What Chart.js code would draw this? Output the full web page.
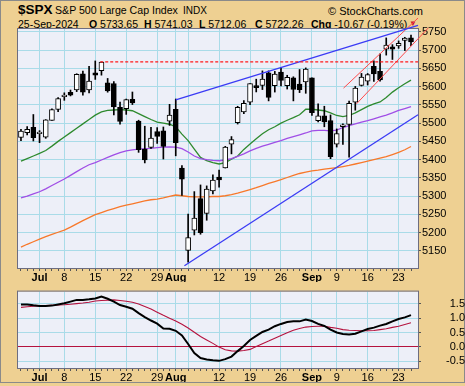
<!DOCTYPE html>
<html>
<head>
<meta charset="utf-8">
<script src="https://cdn.jsdelivr.net/npm/chart.js@4.4.1/dist/chart.umd.min.js"></script>
<style>
  html, body { margin: 0; padding: 0; }
  body { width: 465px; height: 386px; background: #eed092; position: relative; overflow: hidden;
         font-family: "Liberation Sans", Arial, sans-serif; }
  #frame { position: absolute; left: 0; top: 0; width: 465px; height: 383px; box-sizing: border-box; border: 1px solid #8a8a8a; }
  .t { position: absolute; white-space: nowrap; color: #000; }
  .box { position: absolute; left: 0; width: 465px; }
</style>
</head>
<body>
<div id="frame"></div>
<div class="t" style="left:18px;top:3px;font-size:13.5px;line-height:13.5px;font-weight:bold">$SPX</div>
<div class="t" style="left:55px;top:5px;font-size:10.6px;line-height:10.6px">S&amp;P 500 Large Cap Index</div>
<div class="t" style="left:183px;top:5.5px;font-size:10px;line-height:10px">INDX</div>
<div class="t" style="left:328px;top:5.5px;font-size:11px;line-height:11px">&copy; StockCharts.com</div>
<div class="t" style="left:18px;top:18.5px;font-size:10.5px;line-height:10.5px">25-Sep-2024</div>
<div class="t" style="left:89px;top:18.5px;font-size:10.5px;line-height:10.5px"><b>O</b> 5733.65</div>
<div class="t" style="left:144px;top:18.5px;font-size:10.5px;line-height:10.5px"><b>H</b> 5741.03</div>
<div class="t" style="left:199px;top:18.5px;font-size:10.5px;line-height:10.5px"><b>L</b> 5712.06</div>
<div class="t" style="left:255px;top:18.5px;font-size:10.5px;line-height:10.5px"><b>C</b> 5722.26</div>
<div class="t" style="left:311px;top:18.5px;font-size:10.5px;line-height:10.5px"><b>Chg</b> -10.67 (-0.19%)</div>
<div class="t" style="left:409px;top:20px;font-size:8px;line-height:8px;color:#c8102e">&#9660;</div>

<div class="box" style="top:0;height:282px"><canvas id="main"></canvas></div>
<div class="box" style="top:282px;height:100px"><canvas id="ppo"></canvas></div>

<script>
const dates = [
  "Jun 26","Jun 27","Jun 28",
  "Jul 1","Jul 2","Jul 3","Jul 5",
  "Jul 8","Jul 9","Jul 10","Jul 11","Jul 12",
  "Jul 15","Jul 16","Jul 17","Jul 18","Jul 19",
  "Jul 22","Jul 23","Jul 24","Jul 25","Jul 26",
  "Jul 29","Jul 30","Jul 31","Aug 1","Aug 2",
  "Aug 5","Aug 6","Aug 7","Aug 8","Aug 9",
  "Aug 12","Aug 13","Aug 14","Aug 15","Aug 16",
  "Aug 19","Aug 20","Aug 21","Aug 22","Aug 23",
  "Aug 26","Aug 27","Aug 28","Aug 29","Aug 30",
  "Sep 3","Sep 4","Sep 5","Sep 6",
  "Sep 9","Sep 10","Sep 11","Sep 12","Sep 13",
  "Sep 16","Sep 17","Sep 18","Sep 19","Sep 20",
  "Sep 23","Sep 24","Sep 25"
];
const opens = [
  5460.71,5473.59,5488.48,
  5471.08,5461.84,5507.44,5537.91,
  5572.75,5584.24,5591.26,5635.21,5590.76,
  5638.16,5644.09,5610.23,5608.56,5543.37,
  5540.00,5565.30,5505.84,5428.70,5433.67,
  5476.55,5478.73,5505.59,5537.84,5376.63,
  5151.14,5206.42,5293.13,5252.57,5314.29,
  5351.88,5376.98,5442.66,5501.13,5530.50,
  5557.23,5602.88,5603.09,5637.77,5602.89,
  5639.66,5602.89,5624.51,5607.30,5612.74,
  5623.89,5506.68,5520.08,5507.33,
  5442.07,5490.51,5496.42,5557.48,5603.34,
  5615.21,5655.51,5641.68,5702.63,5709.34,
  5711.90,5727.04,5733.65
];
const highs = [
  5483.14,5490.81,5523.64,
  5479.55,5509.69,5539.27,5570.33,
  5583.11,5590.75,5635.39,5642.45,5655.56,
  5670.39,5667.34,5622.49,5614.05,5557.50,
  5566.00,5585.34,5508.04,5491.59,5488.32,
  5487.74,5489.46,5551.51,5566.16,5383.89,
  5250.89,5312.34,5330.64,5328.03,5358.05,
  5371.20,5436.50,5463.22,5546.23,5561.98,
  5608.30,5620.51,5643.22,5643.22,5641.82,
  5651.62,5631.18,5627.03,5646.95,5651.37,
  5623.89,5552.99,5546.30,5522.47,
  5484.20,5497.91,5560.41,5600.71,5636.27,
  5636.05,5670.81,5689.75,5733.57,5715.14,
  5725.36,5735.32,5741.03
];
const lows = [
  5451.87,5467.54,5451.12,
  5446.53,5458.43,5507.42,5531.63,
  5562.51,5574.57,5586.44,5576.53,5583.11,
  5619.85,5631.48,5584.81,5522.81,5497.04,
  5524.00,5550.90,5419.98,5390.95,5430.70,
  5444.44,5401.71,5493.75,5410.42,5302.03,
  5119.26,5193.56,5195.54,5233.85,5306.16,
  5324.37,5376.98,5415.74,5497.59,5525.99,
  5550.74,5585.50,5591.96,5560.95,5585.16,
  5602.34,5593.48,5560.95,5583.71,5581.79,
  5521.19,5503.66,5490.00,5402.62,
  5434.49,5441.72,5406.96,5535.50,5601.65,
  5604.53,5614.05,5615.08,5686.42,5674.49,
  5704.94,5698.99,5712.06
];
const closes = [
  5477.90,5482.87,5460.48,
  5475.09,5509.01,5537.02,5567.19,
  5572.85,5576.98,5633.91,5584.54,5615.35,
  5631.22,5667.20,5588.27,5544.59,5505.00,
  5564.41,5555.74,5427.13,5399.22,5459.10,
  5463.54,5436.44,5522.30,5446.68,5346.56,
  5186.33,5240.03,5199.50,5319.31,5344.16,
  5344.39,5434.43,5455.21,5543.22,5554.25,
  5608.25,5597.12,5620.85,5570.64,5634.61,
  5616.84,5625.80,5592.18,5591.96,5648.40,
  5528.93,5520.07,5503.41,5408.42,
  5471.05,5495.52,5554.13,5595.76,5626.02,
  5633.09,5634.58,5618.26,5713.64,5702.55,
  5718.57,5732.93,5722.26
];
// moving averages
const sma20 = [
  5396,5403,5410,5417,5425,5437,5450,5462,5474,5486,
  5498,5510,5522,5531,5535,5536,5537,5536,5534,5526,
  5518,5510,5503,5500,5497,5490,5470,5452,5429,5406,
  5397,5392,5388,5392,5401,5410,5428,5443,5457,5471,
  5482,5490,5500,5508,5515,5523,5538,5538,5536,5534,
  5528,5521,5518,5521,5528,5537,5546,5553,5558,5570,
  5585,5597,5608,5618
];
const sma50 = [
  5295,5300,5306,5312,5320,5329,5338,5347,5357,5367,
  5377,5386,5392,5399,5406,5413,5419,5424,5427,5429,
  5430,5431,5433,5434,5435,5434,5430,5421,5410,5403,
  5400,5398,5397,5399,5403,5409,5416,5424,5431,5437,
  5442,5447,5452,5458,5463,5468,5473,5479,5480,5480,
  5479,5481,5488,5493,5498,5503,5507,5512,5517,5522,
  5528,5535,5540,5545
];
const sma200 = [
  5160,5168,5175,5182,5189,5195,5201,5207,5215,5224,
  5233,5241,5249,5255,5261,5266,5271,5275,5279,5283,
  5287,5290,5292,5295,5299,5303,5301,5299,5298,5298,
  5298,5299,5299,5301,5304,5308,5313,5318,5323,5329,
  5335,5340,5345,5351,5357,5362,5366,5369,5371,5374,
  5376,5378,5381,5384,5388,5392,5396,5400,5404,5408,
  5414,5420,5427,5436
];
const ppo = [
  1.48,1.48,1.45,1.43,1.43,1.44,1.48,1.52,1.58,1.64,
  1.64,1.66,1.69,1.76,1.68,1.58,1.46,1.40,1.33,1.18,
  1.04,0.92,0.81,0.64,0.63,0.56,0.40,0.10,-0.22,-0.39,
  -0.44,-0.47,-0.49,-0.43,-0.34,-0.15,0.03,0.24,0.38,0.52,
  0.60,0.72,0.80,0.87,0.89,0.89,0.95,0.90,0.80,0.73,
  0.60,0.50,0.45,0.43,0.46,0.54,0.62,0.67,0.74,0.80,
  0.89,0.97,1.03,1.11
];
const ppoSignal = [
  1.38,1.40,1.42,1.43,1.44,1.45,1.46,1.47,1.49,1.51,
  1.53,1.56,1.60,1.62,1.63,1.64,1.62,1.59,1.56,1.50,
  1.41,1.32,1.21,1.10,1.00,0.90,0.79,0.66,0.51,0.36,
  0.24,0.12,-0.01,-0.10,-0.14,-0.15,-0.13,-0.09,0.01,0.11,
  0.20,0.30,0.40,0.49,0.58,0.64,0.69,0.71,0.72,0.72,
  0.68,0.65,0.60,0.58,0.57,0.56,0.56,0.57,0.60,0.63,
  0.68,0.72,0.78,0.84
];
// drawn trend lines, as [day index, price] pairs
const resistance = [[12.8, 5668], [64.13, 5668]];
const upperBlue = [[25, 5564], [64.13, 5768]];
const lowerBlue = [[26.4, 5109], [64.13, 5523]];
const channelTop = [[52.1, 5596], [64.13, 5788]];
const channelBottom = [[54.2, 5553], [65.8, 5761]];

const gridDates = ["Jul 1","Jul 8","Jul 15","Jul 22","Jul 29","Aug 1","Aug 5","Aug 12","Aug 19","Aug 26","Sep 3","Sep 9","Sep 16","Sep 23"];
const gridLabels = ["Jul","8","15","22","29","Aug","","12","19","26","Sep","9","16","23"];
const monthLabels = ["Jul","Aug","Sep"];
const priceTicks = [5150,5200,5250,5300,5350,5400,5450,5500,5550,5600,5650,5700,5750];
const ppoTicks = [-0.5,-0.25,0,0.25,0.5,0.75,1,1.25,1.5,1.75];

const gridIdx = gridDates.map(d => dates.indexOf(d));
const FONT = "'Liberation Sans', Arial, sans-serif";
const GRID = "#a9dbe8";
const NONE = "rgba(0,0,0,0)";

function labelFor(v) {
  const k = gridIdx.indexOf(v);
  return k < 0 ? "" : gridLabels[k];
}
function tickVal(c) {
  return c && c.tick ? c.tick.value : null;
}
function isHalf(v) {
  return v !== null && Math.abs(v * 2 - Math.round(v * 2)) < 1e-6;
}

const panel = {
  id: "panel",
  beforeDraw(chart) {
    const { ctx, chartArea: a } = chart;
    ctx.save();
    ctx.fillStyle = "#edeff8";
    ctx.fillRect(a.left, a.top, a.right - a.left, a.bottom - a.top);
    ctx.restore();
  },
  beforeDatasetsDraw(chart) {
    const { ctx, chartArea: a } = chart;
    ctx.save();
    ctx.strokeStyle = "#6d6d80";
    ctx.lineWidth = 1;
    ctx.strokeRect(a.left - 0.5, a.top - 0.5, a.right - a.left + 1, a.bottom - a.top + 1);
    ctx.restore();
  }
};

function dateAxis() {
  return {
    type: "linear",
    min: -0.48,
    max: 64.13,
    offset: false,
    afterBuildTicks: s => { s.ticks = dates.map((d, i) => ({ value: i })); },
    afterFit: s => { s.height = 14; },
    grid: {
      offset: false,
      color: c => gridIdx.includes(tickVal(c)) ? GRID : NONE,
      tickColor: "#555",
      tickLength: 3,
      lineWidth: 1
    },
    border: { display: false },
    ticks: {
      autoSkip: false,
      maxRotation: 0,
      padding: 0,
      color: "#000",
      callback: v => labelFor(v),
      font: c => ({ family: FONT, size: 11, weight: monthLabels.includes(labelFor(tickVal(c))) ? "bold" : "normal" })
    }
  };
}

function pts(values) {
  return values.map((v, i) => ({ x: i, y: v }));
}
function seg(pairs) {
  return pairs.map(p => ({ x: p[0], y: p[1] }));
}

const wicks = dates.map((d, i) => ({ x: i, y: [lows[i], highs[i]] }));
const bodies = dates.map((d, i) => ({ x: i, y: [opens[i], closes[i]] }));

function maLine(label, values, color) {
  return { type: "line", label: label, data: pts(values), borderColor: color, borderWidth: 1.3, pointRadius: 0, tension: 0, order: 5 };
}
function trend(label, pairs, color, width, dash) {
  return { type: "line", label: label, data: seg(pairs), borderColor: color, borderWidth: width, borderDash: dash || [], pointRadius: 0, clip: false, order: 0 };
}

Chart.defaults.font.family = FONT;

new Chart(document.getElementById("main"), {
  type: "line",
  data: {
    datasets: [
      maLine("SMA 200", sma200, "#f8782a"),
      maLine("SMA 50", sma50, "#a04ee6"),
      maLine("SMA 20", sma20, "#2e8a2e"),
      {
        type: "bar", label: "range", data: wicks, grouped: false,
        backgroundColor: "#000", barThickness: 1, order: 3
      },
      {
        type: "bar", label: "body", data: bodies, grouped: false,
        backgroundColor: bodies.map((b, i) => closes[i] >= opens[i] ? "#ffffff" : "#000000"),
        borderColor: "#000", borderWidth: 1, borderSkipped: false,
        barThickness: 5, minBarLength: 1.5, order: 2
      },
      trend("resistance", resistance, "#ff1a1a", 1.3, [3, 2]),
      trend("upper", upperBlue, "#3b3bf5", 1.3),
      trend("lower", lowerBlue, "#3b3bf5", 1.3),
      trend("channel top", channelTop, "#ff4a4a", 1),
      trend("channel bottom", channelBottom, "#ff4a4a", 1)
    ]
  },
  options: {
    responsive: true,
    maintainAspectRatio: false,
    devicePixelRatio: 1,
    animation: false,
    events: [],
    layout: { padding: { left: 18, top: 29, right: 0, bottom: 0 } },
    plugins: { legend: { display: false }, tooltip: { enabled: false } },
    scales: {
      x: dateAxis(),
      y: {
        position: "right",
        min: 5103,
        max: 5758,
        afterBuildTicks: s => { s.ticks = priceTicks.map(v => ({ value: v })); },
        afterFit: s => { s.width = 47; },
        grid: { color: GRID, tickColor: "#555", tickLength: 3 },
        border: { display: false },
        ticks: { padding: 1, color: "#000", font: { family: FONT, size: 11 }, callback: v => String(v) }
      }
    }
  },
  plugins: [panel]
});

new Chart(document.getElementById("ppo"), {
  type: "line",
  data: {
    datasets: [
      { label: "PPO", data: pts(ppo), borderColor: "#000", borderWidth: 2, pointRadius: 0, tension: 0 },
      { label: "Signal", data: pts(ppoSignal), borderColor: "#b5123e", borderWidth: 1.1, pointRadius: 0, tension: 0 }
    ]
  },
  options: {
    responsive: true,
    maintainAspectRatio: false,
    devicePixelRatio: 1,
    animation: false,
    events: [],
    layout: { padding: { left: 18, top: 3, right: 0, bottom: 0 } },
    plugins: { legend: { display: false }, tooltip: { enabled: false } },
    scales: {
      x: dateAxis(),
      y: {
        position: "right",
        min: -0.74,
        max: 1.93,
        afterBuildTicks: s => { s.ticks = ppoTicks.map(v => ({ value: v })); },
        afterFit: s => { s.width = 47; },
        grid: {
          color: c => tickVal(c) === 0 ? "#b5123e" : GRID,
          tickColor: c => isHalf(tickVal(c)) ? "#555" : NONE,
          tickLength: 3
        },
        border: { display: false },
        ticks: {
          padding: 3,
          crossAlign: "far",
          color: "#000",
          font: { family: FONT, size: 11 },
          callback: v => isHalf(v) ? v.toFixed(1) : ""
        }
      }
    }
  },
  plugins: [panel]
});
</script>
</body>
</html>
